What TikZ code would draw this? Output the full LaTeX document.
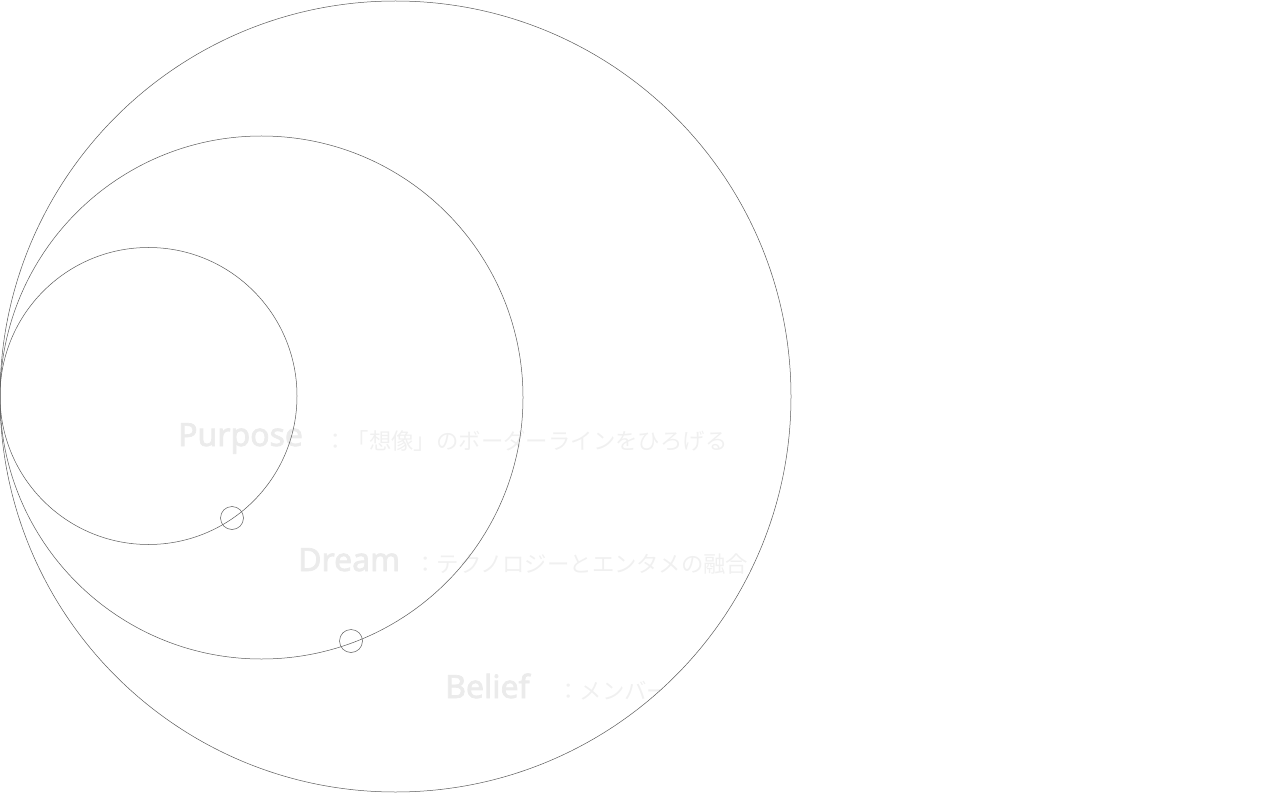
\documentclass[tikz,border=0pt]{standalone}
\usepackage{fontspec}
\newfontfamily\lat{Noto Sans}[FakeBold=2.2]
\newfontfamily\jp{Noto Sans CJK JP}
\definecolor{ring}{HTML}{5A5A5A}
\definecolor{lbl}{HTML}{EBEBEB}
\definecolor{sub}{HTML}{F0F0F0}
\tikzset{
  ringc/.style={draw=ring, line width=0.5pt, circle, inner sep=0pt, fill=none},
  dotc/.style={draw=ring, line width=0.5pt, circle, inner sep=0pt, minimum size=23pt},
  head/.style={anchor=base west, inner sep=0pt, text=lbl, font=\lat\bfseries\fontsize{32}{32}\selectfont},
  desc/.style={anchor=base west, inner sep=0pt, text=sub, font=\jp\fontsize{22.4}{22.4}\selectfont},
}
\begin{document}
\begin{tikzpicture}[x=1pt,y=-1pt]
\useasboundingbox (0,0) rectangle (1263,794);
\begin{scope}
\clip (395.5,396.5) circle (395.5);
\node[head] (hp) at (178,446) {Purpose};
\node[desc] (dp) at (324,449) {：「想像」のボーダーラインをひろげる};
\node[head] (hd) at (298,571) {Dream};
\node[desc] (dd) at (414,572) {：テクノロジーとエンタメの融合};
\node[head] (hb) at (445,698) {Belief};
\node[desc] (db) at (557,699) {：メンバー};
\end{scope}
\node[ringc, minimum size=791pt] (outer) at (395.5,396.5) {};
\node[ringc, minimum size=523pt] (middle) at (261.5,397.5) {};
\node[ringc, minimum size=297pt] (inner) at (148.5,396) {};
\node[dotc] (d1) at (232,518) {};
\node[dotc] (d2) at (351,641) {};
\end{tikzpicture}
\end{document}
